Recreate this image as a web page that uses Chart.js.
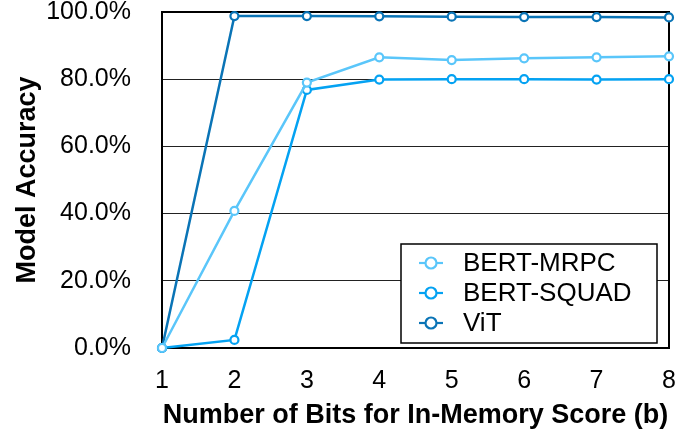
<!DOCTYPE html>
<html>
<head>
<meta charset="utf-8">
<script src="https://cdn.jsdelivr.net/npm/chart.js@4.4.1/dist/chart.umd.min.js"></script>
<style>
  html, body { margin: 0; padding: 0; background: #fff; }
  #wrap { width: 678px; height: 436px; }
</style>
</head>
<body>
<div id="wrap"><canvas id="chart"></canvas></div>
<script>
// bit widths on the x axis
const bits = ['1', '2', '3', '4', '5', '6', '7', '8'];

// accuracy per model, in percent
const bertMrpc = [0, 40.8, 79.0, 86.5, 85.7, 86.2, 86.5, 86.8];
const bertSquad = [0, 2.4, 76.8, 79.9, 80.0, 80.0, 79.9, 80.0];
const vit = [0, 98.8, 98.8, 98.7, 98.6, 98.5, 98.5, 98.4];

const yTicks = [0, 20, 40, 60, 80, 100];

const FONT = '"Liberation Sans", Arial, Helvetica, sans-serif';

function series(label, data, color) {
  return {
    label, data,
    borderColor: color,
    backgroundColor: '#fff',
    borderWidth: 2.5,
    pointRadius: 4,
    pointBorderWidth: 2.2,
    pointBackgroundColor: '#fff',
    pointBorderColor: color,
    tension: 0,
    clip: false
  };
}

// black frame around the plot, drawn under the lines
const framePlugin = {
  id: 'frame',
  beforeDatasetsDraw(chart) {
    const { ctx, chartArea: a } = chart;
    ctx.save();
    ctx.strokeStyle = '#000';
    ctx.lineWidth = 2;
    ctx.strokeRect(a.left, a.top, a.right - a.left, a.bottom - a.top);
    ctx.restore();
  }
};

// boxed legend sitting in the lower right of the plot
const boxLegend = {
  id: 'boxLegend',
  afterDatasetsDraw(chart) {
    const { ctx, chartArea: a } = chart;
    const x0 = a.left + 239, y0 = a.top + 232, w = 256, h = 99;
    ctx.save();
    ctx.fillStyle = '#fff';
    ctx.fillRect(x0, y0, w, h);
    ctx.strokeStyle = '#000';
    ctx.lineWidth = 1.5;
    ctx.strokeRect(x0, y0, w, h);
    ctx.font = '26px ' + FONT;
    ctx.textBaseline = 'middle';
    chart.data.datasets.forEach((ds, i) => {
      const cy = y0 + 19 + i * 30;
      const cx = x0 + 30;
      ctx.strokeStyle = ds.borderColor;
      ctx.lineWidth = 2.2;
      ctx.beginPath();
      ctx.moveTo(cx - 12, cy);
      ctx.lineTo(cx + 12, cy);
      ctx.stroke();
      ctx.beginPath();
      ctx.arc(cx, cy, 5.5, 0, Math.PI * 2);
      ctx.fillStyle = '#fff';
      ctx.fill();
      ctx.stroke();
      ctx.fillStyle = '#000';
      ctx.fillText(ds.label, x0 + 62, cy + 1);
    });
    ctx.restore();
  }
};

new Chart(document.getElementById('chart'), {
  type: 'line',
  data: {
    labels: bits,
    datasets: [
      series('BERT-MRPC', bertMrpc, '#5ac6fa'),
      series('BERT-SQUAD', bertSquad, '#04a2f2'),
      series('ViT', vit, '#0a74b6')
    ]
  },
  options: {
    responsive: true,
    maintainAspectRatio: false,
    animation: false,
    layout: { padding: { top: 12, right: 9, left: 0, bottom: 0 } },
    plugins: { legend: { display: false }, tooltip: { enabled: false } },
    scales: {
      x: {
        offset: false,
        grid: { display: false, drawTicks: false },
        border: { display: false },
        ticks: { color: '#000', padding: 18, font: { family: FONT, size: 25 } },
        title: {
          display: true,
          text: 'Number of Bits for In-Memory Score (b)',
          color: '#000',
          padding: { top: 0 },
          font: { family: FONT, size: 27, weight: 'bold' }
        },
        afterFit(scale) {
          scale.height = 88;
          scale.paddingLeft = 0;
          scale.paddingRight = 0;
        }
      },
      y: {
        min: 0, max: 100,
        afterBuildTicks(scale) { scale.ticks = yTicks.map(v => ({ value: v })); },
        grid: {
          color: (c) => (c.tick.value === 0 || c.tick.value === 100) ? 'rgba(0,0,0,0)' : '#222',
          lineWidth: 1,
          drawTicks: false
        },
        border: { display: false },
        ticks: {
          color: '#000',
          padding: 31,
          font: { family: FONT, size: 25 },
          callback: (v) => v.toFixed(1) + '%'
        },
        title: {
          display: true,
          text: 'Model Accuracy',
          color: '#000',
          padding: { top: 11, bottom: 0 },
          font: { family: FONT, size: 27, weight: 'bold' }
        },
        afterFit(scale) {
          scale.width = 162;
          scale.paddingTop = 0;
          scale.paddingBottom = 0;
        }
      }
    }
  },
  plugins: [framePlugin, boxLegend]
});
</script>
</body>
</html>
